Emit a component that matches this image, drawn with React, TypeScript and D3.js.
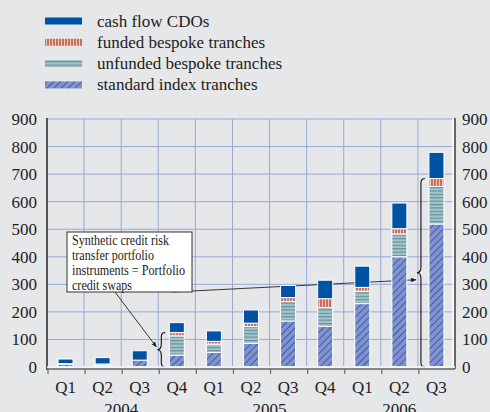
import * as d3 from 'd3';

// quarters and years on the x axis
const quarters = ['Q1', 'Q2', 'Q3', 'Q4', 'Q1', 'Q2', 'Q3', 'Q4', 'Q1', 'Q2', 'Q3'];
const years = [
  { label: '2004', from: 0, to: 3 },
  { label: '2005', from: 4, to: 7 },
  { label: '2006', from: 8, to: 10 },
];

// stacked series, bottom to top
const standardIndex = [10, 6, 25, 43, 53, 86, 167, 147, 230, 400, 519];
const unfundedBespoke = [2, 5, 0, 70, 30, 61, 71, 69, 45, 83, 136];
const fundedBespoke = [0, 0, 0, 12, 10, 12, 14, 32, 14, 19, 29];
const cashFlow = [17, 23, 34, 36, 38, 48, 44, 67, 77, 93, 95];

const yTicks = [0, 100, 200, 300, 400, 500, 600, 700, 800, 900];

const seriesNames = [
  'standard index tranches',
  'unfunded bespoke tranches',
  'funded bespoke tranches',
  'cash flow CDOs',
];
const legendOrder = [3, 2, 1, 0];
const fills = ['url(#pIndex)', 'url(#pUnfunded)', 'url(#pFunded)', '#0052a3'];

const noteLines = [
  'Synthetic credit risk',
  'transfer portfolio',
  'instruments = Portfolio',
  'credit swaps',
];
const noteWidths = [97, 82, 113, 60];

// braces mark the synthetic part (everything below cash flow CDOs)
const bracedBars = [3, 10];

const W = 490;
const H = 412;
const BG = '#e6e7e9';
const GRID = '#9aa8d8';
const FONT = '"Liberation Serif", "Times New Roman", serif';

const rows = quarters.map((_, i) => ({
  i,
  s0: standardIndex[i],
  s1: unfundedBespoke[i],
  s2: fundedBespoke[i],
  s3: cashFlow[i],
}));

const stack = d3.stack<any>().keys(['s0', 's1', 's2', 's3'])(rows);

const x = d3
  .scaleBand<number>()
  .domain(quarters.map((_, i) => i))
  .range([47, 455])
  .padding(0);
const y = d3.scaleLinear().domain([0, 900]).range([367, 119]);

const barW = 15;

const bracePath = (bx: number, top: number, bottom: number) => {
  const mid = (top + bottom) / 2;
  const w = 7;
  return `M${bx + w},${top} C${bx + 2},${top} ${bx + 3},${top + 4} ${bx + 3},${top + 10}
    L${bx + 3},${mid - 6} C${bx + 3},${mid - 2} ${bx + 1},${mid} ${bx - 1},${mid}
    C${bx + 1},${mid} ${bx + 3},${mid + 2} ${bx + 3},${mid + 6}
    L${bx + 3},${bottom - 10} C${bx + 3},${bottom - 4} ${bx + 2},${bottom} ${bx + w},${bottom}`;
};

export default function App() {
  const x0 = 47;
  const x1 = 455;

  const braces = bracedBars.map((i) => {
    const top = y(standardIndex[i] + unfundedBespoke[i] + fundedBespoke[i]);
    const bottom = y(0);
    const bx = (x(i) as number) + x.bandwidth() / 2 - barW / 2 - 11;
    return { i, top, bottom, bx, tipX: bx - 1, tipY: (top + bottom) / 2 };
  });

  const box = { left: 67, top: 232, right: 192, bottom: 292 };

  return (
    <svg
      width={W}
      height={H}
      style={{ position: 'absolute', left: 0, top: 0, background: BG, fontFamily: FONT }}
    >
      <defs>
        <pattern id='pIndex' width='5' height='5' patternUnits='userSpaceOnUse' patternTransform='rotate(45)'>
          <rect width='5' height='5' fill='#8093cf' />
          <line x1='0.5' y1='0' x2='0.5' y2='5' stroke='#3e5aaa' strokeWidth='1' />
        </pattern>
        <pattern id='pUnfunded' width='4' height='3.4' patternUnits='userSpaceOnUse'>
          <rect width='4' height='3.4' fill='#a6c4ca' />
          <line x1='0' y1='0.6' x2='4' y2='0.6' stroke='#5b8c97' strokeWidth='1.1' />
        </pattern>
        <pattern id='pFunded' width='3' height='4' patternUnits='userSpaceOnUse'>
          <rect width='3' height='4' fill='#c86f5f' />
          <line x1='1.5' y1='0' x2='1.5' y2='4' stroke='#f1c7b9' strokeWidth='1' />
        </pattern>
        <marker id='arrow' viewBox='0 0 10 10' refX='9' refY='5' markerWidth='6' markerHeight='6' orient='auto'>
          <path d='M0,1 L10,5 L0,9 Z' fill='#222' />
        </marker>
      </defs>

      {/* legend */}
      {legendOrder.map((k, r) => {
        const cy = 21 + r * 21.3;
        return (
          <g key={k}>
            <rect x={45} y={cy - 3.5} width={37} height={7} fill={fills[k]} />
            <text x={97} y={cy + 5.5} fontSize={17} fill='#222'>
              {seriesNames[k]}
            </text>
          </g>
        );
      })}

      {/* grid */}
      {yTicks.map((t) => (
        <line key={'g' + t} x1={x0} x2={x1} y1={y(t)} y2={y(t)} stroke={GRID} strokeWidth={1} />
      ))}
      {quarters.slice(1).map((_, i) => (
        <line
          key={'v' + i}
          x1={x(i + 1) as number}
          x2={x(i + 1) as number}
          y1={y(900)}
          y2={y(0)}
          stroke={GRID}
          strokeWidth={1}
        />
      ))}

      {/* annotation arrows go under the bars */}
      <line
        x1={box.left + 48}
        y1={box.bottom}
        x2={braces[0].tipX - 1}
        y2={braces[0].tipY - 3}
        stroke='#222'
        strokeWidth={0.9}
        markerEnd='url(#arrow)'
      />
      <line
        x1={box.right - 20}
        y1={box.bottom}
        x2={braces[1].tipX - 1}
        y2={braces[1].tipY + 7}
        stroke='#222'
        strokeWidth={0.9}
        markerEnd='url(#arrow)'
      />

      {/* bars */}
      {stack.map((layer, k) => (
        <g key={'s' + k}>
          {layer.map((d, i) => {
            const h = y(d[0]) - y(d[1]);
            if (h <= 0) return null;
            return (
              <rect
                key={i}
                x={(x(i) as number) + x.bandwidth() / 2 - barW / 2}
                y={y(d[1])}
                width={barW}
                height={h}
                fill={fills[k]}
                stroke='#ffffff'
                strokeWidth={1}
              />
            );
          })}
        </g>
      ))}

      {/* braces */}
      {braces.map((b) => (
        <path key={'b' + b.i} d={bracePath(b.bx, b.top, b.bottom)} fill='none' stroke='#111' strokeWidth={1.1} />
      ))}

      {/* note box */}
      <rect
        x={box.left}
        y={box.top}
        width={box.right - box.left}
        height={box.bottom - box.top}
        fill='#ffffff'
        stroke='#333'
        strokeWidth={1}
      />
      {noteLines.map((t, i) => (
        <text
          key={t}
          x={box.left + 5}
          y={box.top + 13 + i * 15}
          fontSize={14}
          fill='#222'
          textLength={noteWidths[i]}
          lengthAdjust='spacingAndGlyphs'
        >
          {t}
        </text>
      ))}

      {/* axes */}
      <line x1={x0} x2={x0} y1={y(900) - 1} y2={y(0) + 3} stroke='#555' strokeWidth={2} />
      <line x1={x1 - 2} x2={x1 - 2} y1={y(900) - 1} y2={y(0)} stroke='#fff' strokeWidth={1.5} />
      <line x1={x1} x2={x1} y1={y(900) - 1} y2={y(0) + 2} stroke='#222' strokeWidth={1.3} />
      <line x1={x0} x2={x1} y1={y(0)} y2={y(0)} stroke='#fff' strokeWidth={1.5} />
      <line x1={x0} x2={x1} y1={y(0) + 2} y2={y(0) + 2} stroke='#666' strokeWidth={1.5} />
      {quarters.map((_, i) => (
        <line
          key={'t' + i}
          x1={(x(i) as number) + 1}
          x2={(x(i) as number) + 1}
          y1={y(0) + 2}
          y2={y(0) + 7}
          stroke='#666'
          strokeWidth={1.2}
        />
      ))}

      {yTicks.map((t) => (
        <g key={'l' + t} fontSize={17} fill='#222'>
          <text x={37} y={y(t)} dy='0.35em' textAnchor='end'>
            {t}
          </text>
          <text x={462} y={y(t)} dy='0.35em' textAnchor='start'>
            {t}
          </text>
        </g>
      ))}

      {quarters.map((q, i) => (
        <text
          key={'q' + i}
          x={(x(i) as number) + x.bandwidth() / 2}
          y={393}
          fontSize={17}
          textAnchor='middle'
          fill='#222'
        >
          {q}
        </text>
      ))}
      {years.map((yr) => (
        <text
          key={yr.label}
          x={((x(yr.from) as number) + (x(yr.to) as number) + x.bandwidth()) / 2}
          y={415}
          fontSize={17}
          textAnchor='middle'
          fill='#222'
        >
          {yr.label}
        </text>
      ))}
    </svg>
  );
}
